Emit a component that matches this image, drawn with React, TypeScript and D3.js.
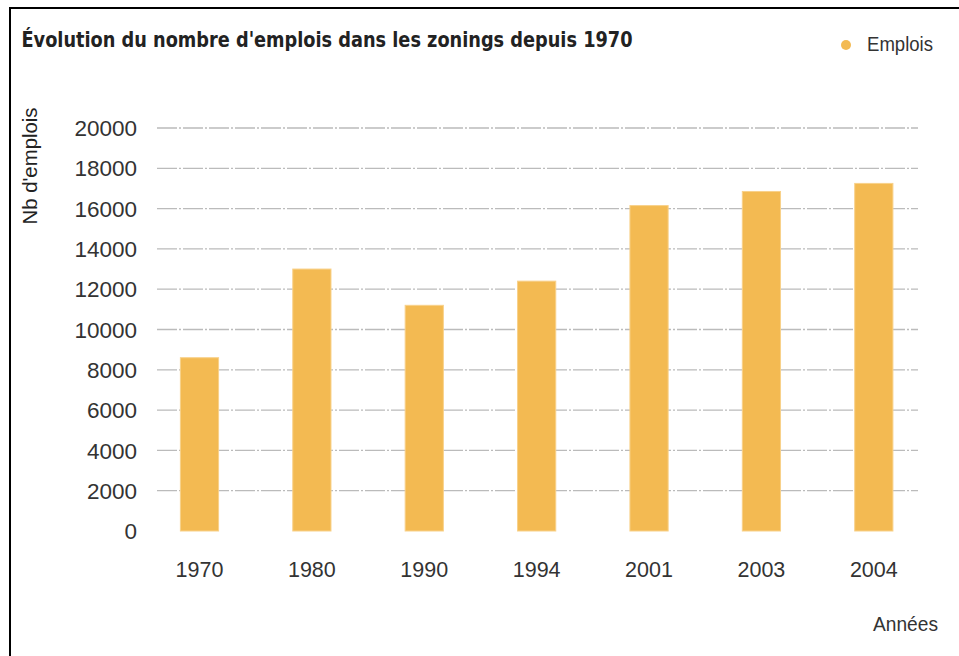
import React from "react";
import * as d3 from "d3";

const years = ["1970", "1980", "1990", "1994", "2001", "2003", "2004"];
const emplois = [8600, 13000, 11200, 12400, 16150, 16850, 17250];
const yTicks = [0, 2000, 4000, 6000, 8000, 10000, 12000, 14000, 16000, 18000, 20000];
const gridTicks = [2000, 4000, 6000, 8000, 10000, 12000, 14000, 16000, 18000, 20000];

const title = "Évolution du nombre d'emplois dans les zonings depuis 1970";
const yTitle = "Nb d'emplois";
const xTitle = "Années";
const legendLabel = "Emplois";

const W = 959;
const H = 656;
const narrow = "'Liberation Sans Narrow', 'DejaVu Sans Condensed', 'Liberation Sans', Arial, sans-serif";
const sans = "'Liberation Sans', Arial, sans-serif";

export default function App() {
  const x = d3
    .scaleBand<string>()
    .domain(years)
    .range([143.3, 930])
    .paddingInner(0.66)
    .paddingOuter(0.33);
  const y = d3.scaleLinear().domain([0, 20000]).range([531, 128]);

  return (
    <svg
      width={W}
      height={H}
      style={{ position: "absolute", left: 0, top: 0, display: "block", background: "#fff" }}
    >
      <rect x={0} y={0} width={W} height={H} fill="#fff" />
      {/* frame */}
      <rect x={9} y={7} width={W - 9} height={2} fill="#000" />
      <rect x={9} y={7} width={2} height={H - 7} fill="#000" />

      {/* title */}
      <text
        x={21.5}
        y={47}
        fontFamily={narrow}
        fontWeight="bold"
        fontSize={21}
        fill="#222"
        textLength={611}
        lengthAdjust="spacingAndGlyphs"
      >
        {title}
      </text>

      {/* legend */}
      <circle cx={846} cy={45} r={5} fill="#F3BA52" />
      <text
        x={867}
        y={51}
        fontFamily={sans}
        fontSize={20}
        fill="#333"
        textLength={66}
        lengthAdjust="spacingAndGlyphs"
      >
        {legendLabel}
      </text>

      {/* y axis title */}
      <text
        transform={`translate(37,166) rotate(-90)`}
        textAnchor="middle"
        fontFamily={sans}
        fontSize={20}
        fill="#222"
        textLength={117}
        lengthAdjust="spacingAndGlyphs"
      >
        {yTitle}
      </text>

      {/* grid lines */}
      {gridTicks.map((t) => (
        <line
          key={"g" + t}
          x1={157}
          x2={918}
          y1={y(t)}
          y2={y(t)}
          stroke="#BBBBBB"
          strokeWidth={1.3}
          strokeDasharray="20,2,2,2"
        />
      ))}

      {/* y tick labels */}
      {yTicks.map((t) => (
        <text
          key={"t" + t}
          x={137}
          y={y(t)}
          dy="0.36em"
          textAnchor="end"
          fontFamily={sans}
          fontSize={22.5}
          fill="#333"
        >
          {t}
        </text>
      ))}

      {/* bars */}
      {years.map((yr, i) => (
        <rect
          key={yr}
          x={x(yr)}
          y={y(emplois[i])}
          width={x.bandwidth()}
          height={y(0) - y(emplois[i])}
          fill="#F3BA52"
          stroke="#F8D18A"
          strokeWidth={1}
        />
      ))}

      {/* x tick labels */}
      {years.map((yr) => (
        <text
          key={"x" + yr}
          x={(x(yr) as number) + x.bandwidth() / 2}
          y={577}
          textAnchor="middle"
          fontFamily={sans}
          fontSize={21.5}
          fill="#333"
        >
          {yr}
        </text>
      ))}

      {/* x axis title */}
      <text
        x={938}
        y={631}
        textAnchor="end"
        fontFamily={sans}
        fontSize={21}
        fill="#333"
        textLength={65}
        lengthAdjust="spacingAndGlyphs"
      >
        {xTitle}
      </text>
    </svg>
  );
}
